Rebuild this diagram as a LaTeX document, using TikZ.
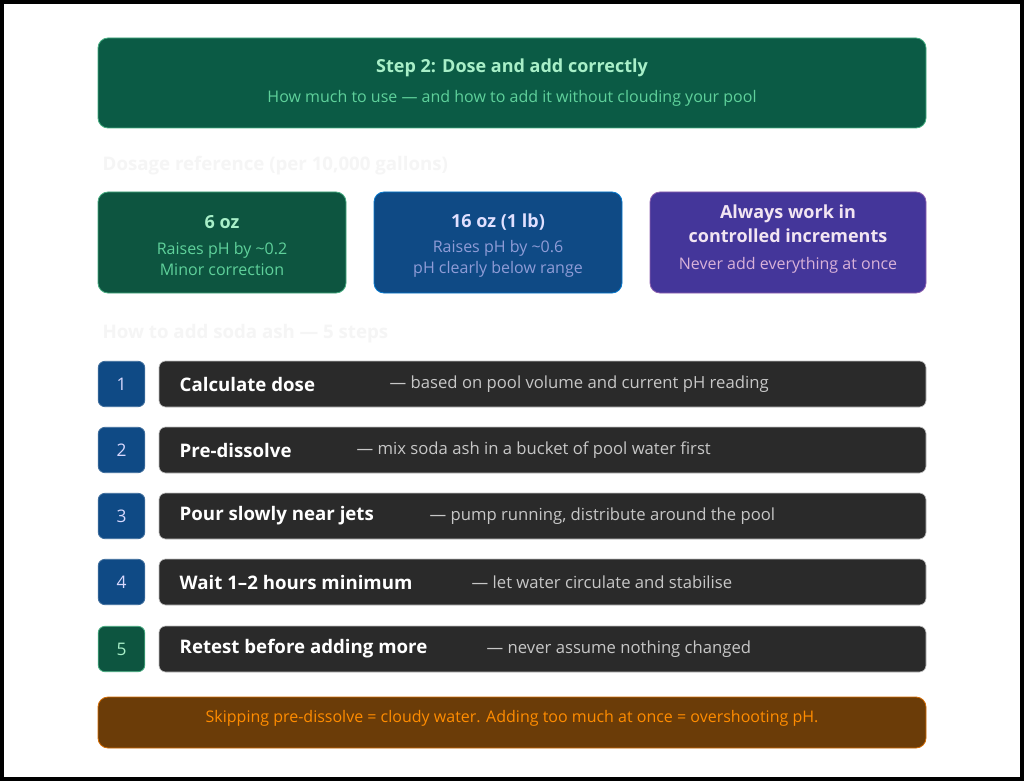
\documentclass[tikz,border=0pt]{standalone}
\usepackage{fontspec}
\setmainfont{Open Sans}
\begin{document}
\begin{tikzpicture}[x=0.75pt,y=-0.75pt,
 box/.style={rounded corners=7.5pt,line width=0.6pt},
 hd/.style={font=\fontsize{13.5}{16}\selectfont\bfseries},
 sub/.style={font=\fontsize{12}{15.5}\selectfont},
 faint/.style={anchor=west,text=black!4,font=\fontsize{14}{16}\selectfont\bfseries},
 num/.style={box,rounded corners=5pt,fill=numblue,draw=numblue!80!white,minimum width=35pt,minimum height=34pt,text=blue!15!white,font=\fontsize{13}{15}\selectfont},
 bar/.style={rounded corners=5pt,fill=bardark,draw=gray!50,line width=0.5pt},
 st/.style={anchor=west,text=white,font=\fontsize{14}{16}\selectfont\bfseries},
 ds/.style={anchor=west,text=black!22!white,font=\fontsize{12.5}{15}\selectfont}]
\definecolor{hdgreen}{HTML}{0B5B45}
\definecolor{cgreen}{HTML}{0D5540}
\definecolor{numblue}{HTML}{0F4A85}
\definecolor{cpurple}{HTML}{44369A}
\definecolor{bardark}{HTML}{2A2A2A}
\definecolor{brown}{HTML}{6B3C08}
\definecolor{ltgreen}{HTML}{A8EFC8}
\definecolor{mdgreen}{HTML}{5FD19B}
\fill[white] (0,0) rectangle (1024,781);
\draw[line width=2.5pt] (2,2) rectangle (1022,779);
% header
\draw[box,fill=hdgreen,draw=mdgreen!70!hdgreen] (98,38) rectangle (926,128);
\node[hd,text=ltgreen] (t1) at (512,68) {Step 2: Dose and add correctly};
\node[sub,text=mdgreen] (t2) at (512,98) {How much to use — and how to add it without clouding your pool};
\node[faint] (f1) at (98,166) {Dosage reference (per 10,000 gallons)};
% cards
\draw[box,fill=cgreen,draw=mdgreen!70!cgreen] (98,192) rectangle (346,293);
\node[hd,text=ltgreen] (c1) at (222,222) {6 oz};
\node[sub,text=mdgreen,align=center] (c1s) at (222,259) {Raises pH by \textasciitilde0.2\\Minor correction};
\draw[box,fill=numblue,draw=blue!40!cyan!60!numblue] (374,192) rectangle (622,293);
\node[hd,text=blue!12!white] (c2) at (498,222) {16 oz (1 lb)};
\node[sub,text=cyan!30!blue!45!white,align=center] (c2s) at (498,259) {Raises pH by \textasciitilde0.6\\pH clearly below range};
\draw[box,fill=cpurple,draw=violet!50!white!60!cpurple] (650,192) rectangle (926,293);
\node[hd,text=violet!10!white,align=center,font=\fontsize{13.5}{18}\selectfont\bfseries] (c3) at (788,224) {Always work in\\controlled increments};
\node[sub,text=violet!30!white] (c3s) at (788,265) {Never add everything at once};
\node[faint] (f2) at (98,334) {How to add soda ash — 5 steps};
% steps
\foreach \y/\n/\s/\d/\dx in {384/1/Calculate dose/{— based on pool volume and current pH reading}/390,
 450/2/Pre-dissolve/{— mix soda ash in a bucket of pool water first}/357,
 516/3/Pour slowly near jets/{— pump running, distribute around the pool}/430,
 582/4/Wait 1–2 hours minimum/{— let water circulate and stabilise}/472,
 649/5/Retest before adding more/{— never assume nothing changed}/487}{
 \draw[bar] (159,\y-23) rectangle (926,\y+23);
 \node[st] (s\n) at (175,\y) {\s};
 \node[ds] (d\n) at (\dx-5,\y) {\d};
}
\foreach \y/\n in {384/1,450/2,516/3,582/4}{\node[num] (n\n) at (121.5,\y) {\n};}
\node[num,fill=cgreen,draw=mdgreen!70!cgreen,text=ltgreen] (n5) at (121.5,649) {5};
% warning
\draw[box,fill=brown,draw=orange!70!brown] (98,697) rectangle (926,748);
\node[sub,text=orange!90!yellow] (w) at (512,718) {Skipping pre-dissolve = cloudy water. Adding too much at once = overshooting pH.};
\end{tikzpicture}
\end{document}
